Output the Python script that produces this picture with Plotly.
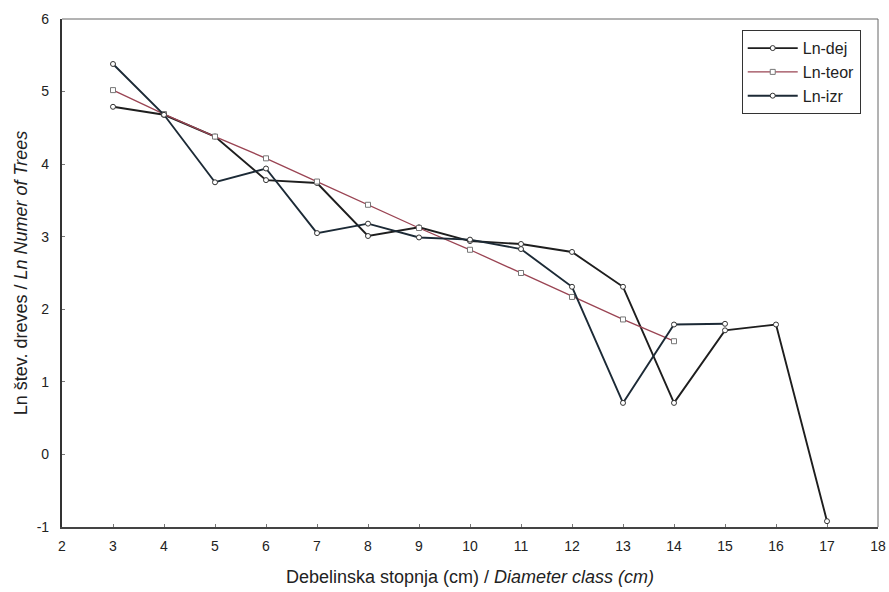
import plotly.graph_objects as go

# Data
x_dej = [3, 4, 5, 6, 7, 8, 9, 10, 11, 12, 13, 14, 15, 16, 17]
ln_dej = [4.79, 4.68, 4.38, 3.78, 3.74, 3.01, 3.13, 2.94, 2.90, 2.79, 2.31, 0.71, 1.71, 1.79, -0.92]

x_teor = [3, 4, 5, 6, 7, 8, 9, 10, 11, 12, 13, 14]
ln_teor = [5.02, 4.69, 4.38, 4.08, 3.76, 3.44, 3.12, 2.82, 2.50, 2.17, 1.86, 1.56]

x_izr = [3, 4, 5, 6, 7, 8, 9, 10, 11, 12, 13, 14, 15]
ln_izr = [5.38, 4.68, 3.75, 3.94, 3.05, 3.18, 2.99, 2.96, 2.83, 2.31, 0.71, 1.79, 1.80]

x_ticks = list(range(2, 19))
y_ticks = list(range(-1, 7))

FONT = "Liberation Sans, Arial, sans-serif"

fig = go.Figure()
fig.add_trace(go.Scatter(
    x=x_dej, y=ln_dej, name="Ln-dej", mode="lines+markers",
    line=dict(color="#1e1e1e", width=1.9),
    marker=dict(symbol="circle", size=5, color="white", line=dict(color="#333", width=1)),
))
fig.add_trace(go.Scatter(
    x=x_teor, y=ln_teor, name="Ln-teor", mode="lines+markers",
    line=dict(color="#9a4453", width=1.3),
    marker=dict(symbol="square", size=5, color="white", line=dict(color="#777", width=1)),
))
fig.add_trace(go.Scatter(
    x=x_izr, y=ln_izr, name="Ln-izr", mode="lines+markers",
    line=dict(color="#1c2a36", width=1.9),
    marker=dict(symbol="circle", size=5, color="white", line=dict(color="#333", width=1)),
))

fig.update_layout(
    width=889, height=592,
    margin=dict(l=62, r=11, t=19, b=65),
    paper_bgcolor="white", plot_bgcolor="white",
    font=dict(family=FONT, size=14, color="#222"),
    showlegend=True,
    legend=dict(
        x=0.833, y=0.978, xanchor="left", yanchor="top",
        bgcolor="white", bordercolor="#333", borderwidth=1,
        font=dict(size=16, color="#222"),
        itemwidth=50,
    ),
    xaxis=dict(
        range=[2, 18], tickvals=x_ticks, ticktext=[str(v) for v in x_ticks],
        showgrid=False, zeroline=False, automargin=False,
        showline=True, linecolor="#444", linewidth=1.5, mirror=False,
        ticks="inside", ticklen=3, tickcolor="#777",
        ticklabelstandoff=5,
        tickfont=dict(size=14, color="#222"),
        title=dict(text="Debelinska stopnja (cm) / <i>Diameter class (cm)</i>",
                   font=dict(size=18, color="#222"), standoff=18),
    ),
    yaxis=dict(
        range=[-1, 6], tickvals=y_ticks, ticktext=[str(v) for v in y_ticks],
        showgrid=False, zeroline=False, automargin=False,
        showline=True, linecolor="#333", linewidth=2.2, mirror=False,
        ticks="inside", ticklen=3, tickcolor="#777",
        ticklabelstandoff=8,
        tickfont=dict(size=14, color="#222"),
        title=dict(text="Ln štev. dreves / <i>Ln Numer of Trees</i>",
                   font=dict(size=18, color="#222"), standoff=4),
    ),
    shapes=[
        dict(type="line", xref="paper", yref="paper", x0=0, x1=1, y0=1, y1=1,
             line=dict(color="#666", width=1)),
        dict(type="line", xref="paper", yref="paper", x0=1, x1=1, y0=0, y1=1,
             line=dict(color="#666", width=1)),
    ],
)

fig.write_html("out.html")
